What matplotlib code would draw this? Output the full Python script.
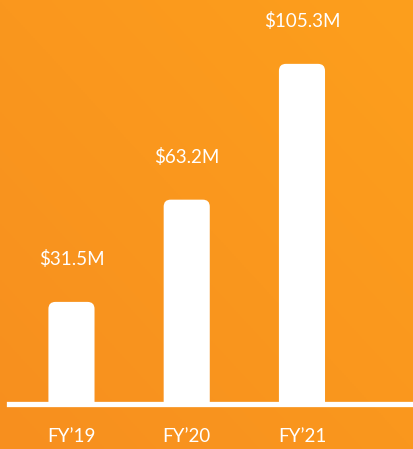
import numpy as np
import matplotlib.pyplot as plt
from matplotlib.patches import FancyBboxPatch
from matplotlib.colors import LinearSegmentedColormap

# data
years = ["FY\u201919", "FY\u201920", "FY\u201921"]
revenue = [31.5, 63.2, 105.3]
labels = ["$31.5M", "$63.2M", "$105.3M"]

plt.rcParams['font.family'] = ['Lato', 'DejaVu Sans']

fig = plt.figure(figsize=(4.14, 4.49), dpi=100)

# orange gradient background
bg = fig.add_axes([0, 0, 1, 1])
gx, gy = np.meshgrid(np.linspace(0, 1, 200), np.linspace(0, 1, 200))
grad = (gx + (1 - gy)) / 2
cmap = LinearSegmentedColormap.from_list("bg", ["#f78f1f", "#fd9f1c"])
bg.imshow(grad, cmap=cmap, aspect='auto', extent=[0, 1, 0, 1], origin='upper')
bg.axis('off')

ax = fig.add_axes([9 / 414, 45.5 / 449, 1 - 9 / 414, 403.5 / 449])
ax.patch.set_alpha(0)
x = np.arange(len(years))
bars = ax.bar(x, revenue, width=0.40, color='none')
ax.set_xlim(-0.542, 2.972)
ax.set_ylim(0, 125.1)

# rounded white bars
px_x = (ax.get_position().width * 414) / (2.972 + 0.542)
px_y = (ax.get_position().height * 449) / 125.1
for b in bars:
    r = 7 / px_x
    p = FancyBboxPatch((b.get_x(), b.get_y() - 5), b.get_width(), b.get_height() + 5,
                       boxstyle="round,pad=0,rounding_size=%f" % r,
                       mutation_aspect=px_x / px_y,
                       facecolor='white', edgecolor='none', zorder=2)
    ax.add_patch(p)

ax.axhline(0, color='white', lw=3.8, zorder=3, clip_on=False)

for i, v in enumerate(revenue):
    ax.annotate(labels[i], (x[i], v), xytext=(0, 31), textcoords='offset points',
                ha='center', va='center', color='white', fontsize=13.5)

ax.set_xticks(x)
ax.set_xticklabels(years, color='white', fontsize=13.5)
ax.tick_params(axis='x', length=0, pad=18)
ax.set_yticks([])
for s in ax.spines.values():
    s.set_visible(False)

fig.savefig("out.png", dpi=100)
